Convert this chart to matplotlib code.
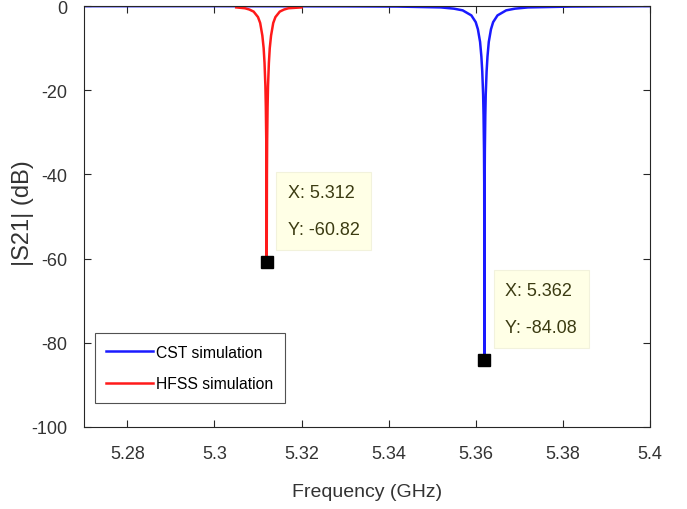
import matplotlib
matplotlib.use("Agg")
import matplotlib.pyplot as plt

plt.rcParams['font.family'] = ['Liberation Sans', 'DejaVu Sans']
plt.rcParams['axes.unicode_minus'] = False

# CST simulation (blue)
cst_f = [5.270, 5.300, 5.330, 5.342, 5.352, 5.355, 5.357, 5.359, 5.360, 5.3605,
         5.361, 5.3613, 5.3615, 5.3617, 5.3618, 5.3619, 5.36195, 5.362,
         5.36205, 5.3621, 5.3622, 5.3623, 5.3625, 5.3627, 5.363, 5.3635,
         5.364, 5.365, 5.367, 5.369, 5.372, 5.382, 5.400]
cst_s21 = [0.0, 0.0, -0.05, -0.1, -0.3, -0.6, -1.0, -2.2, -3.8, -5.5,
           -8.5, -12.0, -15.5, -21.0, -26.0, -34.0, -42.0, -84.08,
           -42.0, -34.0, -26.0, -21.0, -15.5, -12.0, -8.5, -5.5,
           -3.8, -2.2, -1.0, -0.6, -0.3, -0.1, 0.0]

# HFSS simulation (red)
hfss_f = [5.305, 5.307, 5.308, 5.309, 5.310, 5.3105, 5.311, 5.3113, 5.3115,
          5.3117, 5.3118, 5.3119, 5.31195, 5.312, 5.31205, 5.3121, 5.3122,
          5.3123, 5.3125, 5.3127, 5.313, 5.3135, 5.314, 5.315, 5.316, 5.317, 5.320]
hfss_s21 = [-0.3, -0.5, -0.8, -1.3, -2.6, -4.0, -7.0, -10.0, -13.5,
            -19.0, -24.0, -32.0, -40.0, -60.82, -40.0, -32.0, -24.0,
            -19.0, -13.5, -10.0, -7.0, -4.0, -2.6, -1.3, -0.8, -0.5, -0.3]

tips = [(5.312, -60.82), (5.362, -84.08)]

xticks = [5.28, 5.30, 5.32, 5.34, 5.36, 5.38, 5.40]
xticklabels = ['5.28', '5.3', '5.32', '5.34', '5.36', '5.38', '5.4']
yticks = [0, -20, -40, -60, -80, -100]

fig = plt.figure(figsize=(6.87, 5.10), dpi=100)
ax = fig.add_axes([0.122, 0.161, 0.824, 0.825])

ax.plot(cst_f, cst_s21, color='#1a1aff', lw=1.8, label='CST simulation')
ax.plot(hfss_f, hfss_s21, color='#ff1a1a', lw=1.8, label='HFSS simulation')

# data tips: box sits up and to the right of the marker
for fx, fy in tips:
    ax.plot(fx, fy, 's', color='black', ms=9, zorder=5)
    ax.annotate('X: %g\nY: %g' % (fx, fy), xy=(fx, fy), xytext=(21, 24),
                textcoords='offset pixels', ha='left', va='bottom',
                fontsize=13, color='#3b3b12', linespacing=2.55,
                bbox=dict(boxstyle='square,pad=0.65', fc='#ffffe6', ec='#f2f2dc', lw=0.8))

ax.set_xlim(5.27, 5.40)
ax.set_ylim(-100, 0)
ax.set_xticks(xticks)
ax.set_xticklabels(xticklabels)
ax.set_yticks(yticks)
ax.tick_params(axis='x', pad=13)
ax.tick_params(axis='y', pad=12)
ax.tick_params(direction='in', top=True, right=True, labelsize=13, length=5,
               colors='#262626', labelcolor='#333333')
for s in ax.spines.values():
    s.set_color('#262626')
    s.set_linewidth(0.8)

ax.set_xlabel('Frequency (GHz)', fontsize=14, color='#333333', labelpad=15)
ax.set_ylabel('|S21| (dB)', fontsize=17, color='#333333')
ax.yaxis.set_label_coords(-0.088, 0.51)

leg = ax.legend(loc='lower left', fontsize=11.3, frameon=True, fancybox=False,
                edgecolor='#262626', handlelength=3.0, handletextpad=0.15,
                labelspacing=1.05, borderpad=0.75, borderaxespad=0.0,
                bbox_to_anchor=(0.019, 0.057))
leg.get_frame().set_linewidth(0.8)

fig.savefig('out.png', dpi=100)
